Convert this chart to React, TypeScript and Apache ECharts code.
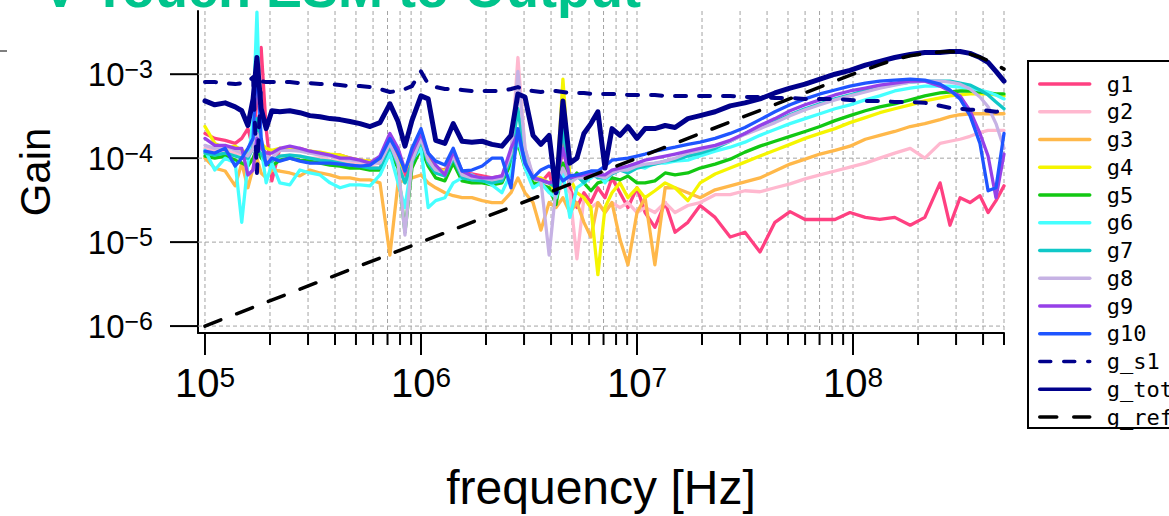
import React, { useEffect, useRef } from 'react';
import * as echarts from 'echarts';

// ---------------- data ----------------
const FREQ = [
  1.00e5, 1.11e5, 1.24e5, 1.38e5, 1.48e5, 1.58e5, 1.67e5, 1.74e5, 1.82e5, 1.92e5,
  2.04e5, 2.22e5, 2.47e5, 2.75e5, 3.06e5, 3.41e5, 3.79e5, 4.22e5, 4.69e5, 5.22e5,
  5.81e5, 6.46e5, 7.18e5, 7.83e5, 8.43e5, 9.08e5, 1.00e6, 1.08e6, 1.17e6, 1.29e6,
  1.41e6, 1.55e6, 1.72e6, 1.92e6, 2.13e6, 2.37e6, 2.61e6, 2.81e6, 3.03e6, 3.30e6,
  3.59e6, 3.92e6, 4.22e6, 4.54e6, 4.89e6, 5.27e6, 5.68e6, 6.12e6, 6.59e6, 7.11e6,
  7.66e6, 8.34e6, 9.08e6, 1.00e7, 1.09e7, 1.21e7, 1.35e7, 1.50e7, 1.72e7, 1.96e7,
  2.30e7, 2.70e7, 3.16e7, 3.71e7, 4.35e7, 5.11e7, 6.00e7, 7.03e7, 8.25e7, 9.68e7,
  1.14e8, 1.33e8, 1.56e8, 1.84e8, 2.15e8, 2.53e8, 2.81e8, 3.13e8, 3.48e8, 3.87e8,
  4.22e8, 4.59e8, 5.00e8,
];

const G1 = [
  1.97e-4, 1.72e-4, 1.63e-4, 1.50e-4, 1.72e-4, 2.25e-4, 1.31e-4, 5.08e-4, 2.08e-3, 2.25e-4,
  5.36e-5, 1.31e-4, 1.24e-4, 1.31e-4, 1.21e-4, 1.15e-4, 1.09e-4, 1.09e-4, 1.00e-4, 9.47e-5,
  9.22e-5, 8.73e-5, 1.50e-4, 1.00e-4, 6.14e-5, 9.47e-5, 1.72e-4, 1.00e-4, 7.62e-5, 7.22e-5,
  1.00e-4, 6.66e-5, 6.48e-5, 6.14e-5, 5.82e-5, 6.14e-5, 8.73e-5, 1.72e-4, 1.00e-4, 5.82e-5,
  5.08e-5, 6.66e-5, 3.38e-5, 1.50e-4, 4.44e-5, 2.58e-5, 3.88e-5, 2.96e-5, 4.44e-5, 3.38e-5,
  5.82e-5, 3.88e-5, 2.58e-5, 4.44e-5, 2.25e-5, 1.50e-5, 2.96e-5, 1.31e-5, 1.72e-5, 2.73e-5,
  1.97e-5, 1.15e-5, 1.31e-5, 7.62e-6, 1.72e-5, 2.31e-5, 1.86e-5, 1.86e-5, 1.86e-5, 2.25e-5,
  1.97e-5, 1.86e-5, 1.97e-5, 1.59e-5, 1.97e-5, 5.08e-5, 1.59e-5, 3.38e-5, 2.96e-5, 3.57e-5,
  2.25e-5, 3.12e-5, 4.68e-5,
];

const G2 = [
  1.31e-4, 1.21e-4, 1.24e-4, 1.15e-4, 1.12e-4, 1.06e-4, 1.31e-4, 2.96e-4, 1.72e-4, 1.00e-4,
  8.73e-5, 1.06e-4, 1.09e-4, 1.06e-4, 1.00e-4, 1.00e-4, 9.47e-5, 9.22e-5, 8.73e-5, 8.50e-5,
  8.05e-5, 7.62e-5, 1.31e-4, 8.73e-5, 5.08e-5, 8.05e-5, 1.31e-4, 8.73e-5, 6.66e-5, 6.14e-5,
  8.73e-5, 5.82e-5, 5.51e-5, 5.36e-5, 5.08e-5, 5.51e-5, 1.00e-4, 1.58e-3, 1.31e-4, 5.82e-5,
  5.08e-5, 4.44e-5, 3.38e-5, 5.08e-5, 3.88e-5, 6.31e-6, 3.38e-5, 2.58e-5, 2.96e-5, 2.25e-5,
  2.96e-5, 2.58e-5, 2.96e-5, 2.25e-5, 2.58e-5, 2.25e-5, 2.96e-5, 2.25e-5, 2.73e-5, 2.96e-5,
  3.67e-5, 3.67e-5, 4.09e-5, 3.98e-5, 4.44e-5, 4.94e-5, 5.66e-5, 6.31e-5, 7.03e-5, 7.83e-5,
  8.73e-5, 1.00e-4, 1.15e-4, 1.31e-4, 1.00e-4, 1.50e-4, 1.59e-4, 1.68e-4, 1.82e-4, 2.02e-4,
  2.14e-4, 2.14e-4, 2.14e-4,
];

const G3 = [
  1.00e-4, 7.62e-5, 7.03e-5, 4.68e-5, 8.73e-5, 4.44e-5, 7.62e-5, 1.00e-4, 6.66e-5, 5.82e-5,
  7.22e-5, 7.03e-5, 6.66e-5, 6.14e-5, 7.22e-5, 6.66e-5, 6.31e-5, 5.82e-5, 5.82e-5, 5.51e-5,
  5.51e-5, 5.08e-5, 6.99e-6, 5.08e-5, 5.51e-5, 5.82e-5, 6.31e-5, 5.08e-5, 4.44e-5, 3.88e-5,
  3.57e-5, 3.38e-5, 3.38e-5, 3.12e-5, 2.96e-5, 2.96e-5, 3.88e-5, 5.82e-5, 3.88e-5, 2.96e-5,
  1.39e-5, 2.96e-5, 2.58e-5, 3.38e-5, 2.25e-5, 2.96e-5, 1.72e-5, 1.15e-5, 2.96e-5, 2.25e-5,
  2.96e-5, 1.08e-5, 5.36e-6, 2.25e-5, 3.38e-5, 5.36e-6, 4.44e-5, 4.44e-5, 3.88e-5, 3.38e-5,
  4.20e-5, 4.68e-5, 5.22e-5, 5.82e-5, 7.03e-5, 8.50e-5, 9.73e-5, 1.12e-4, 1.24e-4, 1.39e-4,
  1.68e-4, 1.87e-4, 2.08e-4, 2.38e-4, 2.58e-4, 2.88e-4, 3.12e-4, 3.29e-4, 3.38e-4, 3.38e-4,
  3.38e-4, 3.38e-4, 3.38e-4,
];

const G4 = [
  2.38e-4, 1.50e-4, 1.31e-4, 1.39e-4, 1.24e-4, 1.15e-4, 1.31e-4, 1.72e-4, 1.50e-4, 1.31e-4,
  1.24e-4, 1.31e-4, 1.31e-4, 1.24e-4, 1.21e-4, 1.18e-4, 1.12e-4, 1.09e-4, 1.00e-4, 9.47e-5,
  9.22e-5, 8.73e-5, 1.31e-4, 9.47e-5, 7.22e-5, 1.00e-4, 1.50e-4, 1.00e-4, 7.62e-5, 7.03e-5,
  1.00e-4, 6.66e-5, 6.14e-5, 5.82e-5, 5.51e-5, 5.82e-5, 1.00e-4, 1.72e-4, 8.73e-5, 5.82e-5,
  5.82e-5, 5.08e-5, 3.88e-5, 8.73e-4, 5.82e-5, 3.88e-5, 3.38e-5, 2.58e-5, 4.09e-6, 2.58e-5,
  3.88e-5, 5.08e-5, 3.38e-5, 4.44e-5, 3.38e-5, 4.09e-5, 5.08e-5, 4.44e-5, 3.12e-5, 5.08e-5,
  6.48e-5, 7.62e-5, 8.97e-5, 1.06e-4, 1.24e-4, 1.46e-4, 1.72e-4, 1.97e-4, 2.25e-4, 2.65e-4,
  3.04e-4, 3.48e-4, 3.88e-4, 4.32e-4, 4.81e-4, 5.22e-4, 5.51e-4, 5.66e-4, 5.82e-4, 5.82e-4,
  5.82e-4, 5.66e-4, 5.51e-4,
];

const G5 = [
  1.06e-4, 1.00e-4, 1.06e-4, 9.47e-5, 8.73e-5, 8.05e-5, 1.00e-4, 1.31e-4, 1.00e-4, 8.73e-5,
  8.05e-5, 9.47e-5, 1.00e-4, 9.47e-5, 9.22e-5, 8.73e-5, 8.27e-5, 8.05e-5, 7.62e-5, 7.62e-5,
  7.22e-5, 7.22e-5, 1.15e-4, 7.62e-5, 1.31e-5, 7.62e-5, 1.31e-4, 8.05e-5, 5.82e-5, 5.36e-5,
  8.73e-5, 5.36e-5, 5.08e-5, 5.08e-5, 4.81e-5, 5.08e-5, 8.73e-5, 1.50e-4, 7.62e-5, 5.08e-5,
  4.81e-5, 4.44e-5, 2.80e-5, 8.73e-5, 5.08e-5, 6.66e-5, 5.08e-5, 4.09e-5, 5.08e-5, 5.36e-5,
  5.82e-5, 5.51e-5, 6.14e-5, 5.08e-5, 5.08e-5, 5.36e-5, 6.66e-5, 6.31e-5, 6.66e-5, 7.62e-5,
  8.50e-5, 9.73e-5, 1.18e-4, 1.39e-4, 1.59e-4, 1.82e-4, 2.08e-4, 2.38e-4, 2.80e-4, 3.21e-4,
  3.67e-4, 4.09e-4, 4.44e-4, 4.94e-4, 5.51e-4, 5.98e-4, 6.14e-4, 6.31e-4, 6.31e-4, 6.14e-4,
  5.98e-4, 5.82e-4, 5.82e-4,
];

const G6 = [
  1.24e-4, 7.22e-5, 1.00e-4, 8.73e-5, 1.72e-5, 8.73e-5, 2.96e-4, 5.50e-3, 1.31e-4, 5.08e-5,
  8.73e-5, 5.08e-5, 4.81e-5, 7.22e-5, 6.66e-5, 6.31e-5, 5.08e-5, 4.44e-5, 4.81e-5, 4.81e-5,
  4.68e-5, 6.31e-5, 1.15e-4, 5.08e-5, 2.58e-5, 9.47e-5, 1.31e-4, 2.58e-5, 3.12e-5, 3.38e-5,
  5.08e-5, 5.82e-5, 6.31e-5, 5.51e-5, 4.81e-5, 3.88e-5, 6.66e-5, 1.72e-4, 7.62e-5, 4.44e-5,
  5.08e-5, 3.88e-5, 3.38e-5, 6.66e-5, 1.97e-5, 4.44e-5, 5.08e-5, 5.82e-5, 6.66e-5, 5.08e-5,
  6.66e-5, 7.62e-5, 7.22e-5, 8.05e-5, 7.62e-5, 8.73e-5, 8.73e-5, 9.22e-5, 9.47e-5, 1.06e-4,
  1.21e-4, 1.35e-4, 1.55e-4, 1.87e-4, 2.19e-4, 2.58e-4, 2.96e-4, 3.38e-4, 3.88e-4, 4.32e-4,
  4.94e-4, 5.51e-4, 6.31e-4, 6.84e-4, 7.22e-4, 7.22e-4, 7.22e-4, 7.03e-4, 6.84e-4, 6.48e-4,
  6.14e-4, 5.66e-4, 5.08e-4,
];

const G7 = [
  1.15e-4, 1.09e-4, 1.15e-4, 1.06e-4, 1.00e-4, 1.00e-4, 1.31e-4, 2.96e-4, 1.15e-4, 8.73e-5,
  9.22e-5, 1.06e-4, 1.09e-4, 1.06e-4, 1.00e-4, 9.47e-5, 9.22e-5, 8.73e-5, 8.27e-5, 8.05e-5,
  7.62e-5, 7.62e-5, 1.39e-4, 8.27e-5, 5.08e-5, 8.73e-5, 1.63e-4, 8.73e-5, 6.66e-5, 6.14e-5,
  1.00e-4, 5.82e-5, 5.51e-5, 5.36e-5, 5.08e-5, 5.36e-5, 1.00e-4, 3.88e-4, 1.00e-4, 5.82e-5,
  5.36e-5, 5.08e-5, 4.44e-5, 2.25e-4, 5.08e-5, 6.14e-5, 5.08e-5, 6.66e-5, 5.82e-5, 5.82e-5,
  6.48e-5, 7.22e-5, 6.66e-5, 7.62e-5, 8.05e-5, 8.50e-5, 9.22e-5, 9.47e-5, 1.06e-4, 1.15e-4,
  1.31e-4, 1.59e-4, 1.97e-4, 2.38e-4, 2.73e-4, 3.29e-4, 3.88e-4, 4.44e-4, 5.08e-4, 5.66e-4,
  6.48e-4, 7.03e-4, 7.62e-4, 8.05e-4, 8.27e-4, 8.27e-4, 8.27e-4, 7.83e-4, 7.42e-4, 6.48e-4,
  5.66e-4, 4.68e-4, 3.88e-4,
];

const G8 = [
  1.42e-4, 1.31e-4, 1.39e-4, 1.24e-4, 1.15e-4, 1.06e-4, 1.31e-4, 1.97e-4, 1.31e-4, 1.06e-4,
  1.00e-4, 1.24e-4, 1.24e-4, 1.21e-4, 1.15e-4, 1.09e-4, 1.06e-4, 1.00e-4, 9.47e-5, 9.22e-5,
  8.73e-5, 8.73e-5, 1.50e-4, 8.73e-5, 1.21e-5, 9.22e-5, 1.72e-4, 9.47e-5, 7.22e-5, 6.66e-5,
  1.06e-4, 6.31e-5, 5.82e-5, 5.82e-5, 5.51e-5, 5.82e-5, 1.15e-4, 1.08e-3, 1.31e-4, 6.14e-5,
  5.36e-5, 6.99e-6, 4.44e-5, 7.62e-5, 5.08e-5, 5.82e-5, 5.82e-5, 6.14e-5, 6.14e-5, 5.82e-5,
  6.66e-5, 7.22e-5, 7.22e-5, 8.05e-5, 8.50e-5, 8.73e-5, 9.22e-5, 1.00e-4, 1.15e-4, 1.24e-4,
  1.39e-4, 1.59e-4, 1.92e-4, 2.25e-4, 2.65e-4, 3.21e-4, 3.77e-4, 4.32e-4, 4.94e-4, 5.51e-4,
  6.14e-4, 6.84e-4, 7.42e-4, 8.05e-4, 8.27e-4, 8.27e-4, 8.05e-4, 7.62e-4, 6.66e-4, 5.36e-4,
  4.09e-4, 2.58e-4, 1.31e-4,
];

const G9 = [
  1.72e-4, 1.42e-4, 1.42e-4, 1.31e-4, 1.31e-4, 6.31e-5, 7.22e-5, 1.72e-4, 1.31e-4, 1.15e-4,
  1.15e-4, 1.31e-4, 1.39e-4, 1.31e-4, 1.21e-4, 1.15e-4, 1.09e-4, 1.00e-4, 1.00e-4, 9.47e-5,
  8.73e-5, 1.06e-4, 1.97e-4, 1.31e-4, 7.22e-5, 1.15e-4, 1.97e-4, 1.15e-4, 8.27e-5, 6.31e-5,
  1.21e-4, 7.03e-5, 6.14e-5, 5.82e-5, 5.82e-5, 6.14e-5, 1.31e-4, 1.97e-4, 8.73e-5, 5.82e-5,
  5.51e-5, 5.08e-5, 5.36e-5, 1.31e-4, 5.82e-5, 6.14e-5, 6.31e-5, 6.48e-5, 6.31e-5, 6.31e-5,
  7.22e-5, 7.62e-5, 8.05e-5, 8.73e-5, 9.47e-5, 1.00e-4, 1.06e-4, 1.12e-4, 1.21e-4, 1.31e-4,
  1.42e-4, 1.63e-4, 1.97e-4, 2.45e-4, 2.96e-4, 3.67e-4, 4.32e-4, 4.94e-4, 5.66e-4, 6.31e-4,
  6.84e-4, 7.42e-4, 7.83e-4, 8.27e-4, 8.27e-4, 7.22e-4, 6.31e-4, 5.51e-4, 3.67e-4, 1.97e-4,
  1.06e-4, 3.38e-5, 1.12e-4,
];

const G10 = [
  1.21e-4, 1.15e-4, 1.31e-4, 8.05e-5, 1.00e-4, 1.31e-4, 1.72e-4, 1.50e-3, 1.72e-4, 8.27e-5,
  1.00e-4, 9.22e-5, 1.00e-4, 9.22e-5, 8.73e-5, 8.73e-5, 8.73e-5, 8.50e-5, 8.27e-5, 8.05e-5,
  8.27e-5, 1.00e-4, 1.72e-4, 1.15e-4, 7.03e-5, 1.31e-4, 2.25e-4, 1.15e-4, 9.22e-5, 8.27e-5,
  1.31e-4, 7.03e-5, 7.22e-5, 8.05e-5, 1.00e-4, 1.00e-4, 4.44e-5, 2.25e-4, 8.73e-5, 5.82e-5,
  7.22e-5, 8.05e-5, 7.22e-5, 5.36e-5, 6.14e-5, 6.31e-5, 6.66e-5, 7.03e-5, 7.03e-5, 8.05e-5,
  9.47e-5, 9.73e-5, 1.00e-4, 1.06e-4, 1.12e-4, 1.21e-4, 1.28e-4, 1.35e-4, 1.46e-4, 1.55e-4,
  1.72e-4, 1.97e-4, 2.32e-4, 2.88e-4, 3.57e-4, 4.32e-4, 5.08e-4, 5.82e-4, 6.48e-4, 7.22e-4,
  7.83e-4, 8.27e-4, 8.50e-4, 8.73e-4, 8.50e-4, 7.62e-4, 6.48e-4, 5.08e-4, 3.21e-4, 1.50e-4,
  4.09e-5, 4.44e-5, 1.97e-4,
];

const G_S1 = [
  8.05e-4, 8.05e-4, 7.83e-4, 7.62e-4, 7.83e-4, 8.05e-4, 9.22e-4, 6.66e-5, 8.27e-4, 8.05e-4,
  8.05e-4, 8.05e-4, 8.05e-4, 7.83e-4, 7.83e-4, 7.62e-4, 7.62e-4, 7.42e-4, 7.22e-4, 7.22e-4,
  7.03e-4, 6.66e-4, 6.14e-4, 6.31e-4, 6.66e-4, 7.22e-4, 1.08e-3, 7.62e-4, 7.03e-4, 6.66e-4,
  6.66e-4, 6.48e-4, 6.31e-4, 6.31e-4, 6.31e-4, 6.31e-4, 6.66e-4, 7.03e-4, 6.48e-4, 6.31e-4,
  6.14e-4, 6.31e-4, 6.31e-4, 6.14e-4, 5.98e-4, 5.98e-4, 5.98e-4, 5.82e-4, 5.82e-4, 5.82e-4,
  5.82e-4, 5.82e-4, 5.66e-4, 5.66e-4, 5.66e-4, 5.66e-4, 5.51e-4, 5.51e-4, 5.51e-4, 5.51e-4,
  5.51e-4, 5.51e-4, 5.36e-4, 5.36e-4, 5.22e-4, 5.22e-4, 5.08e-4, 5.08e-4, 5.08e-4, 4.94e-4,
  4.81e-4, 4.81e-4, 4.68e-4, 4.68e-4, 4.56e-4, 4.20e-4, 3.98e-4, 3.88e-4, 3.77e-4, 3.77e-4,
  3.67e-4, 3.57e-4, 3.67e-4,
];

const G_TOT = [
  4.81e-4, 4.32e-4, 4.56e-4, 4.09e-4, 3.67e-4, 2.45e-4, 5.08e-4, 1.58e-3, 3.88e-4, 2.25e-4,
  3.67e-4, 3.57e-4, 3.67e-4, 3.48e-4, 3.21e-4, 3.12e-4, 2.96e-4, 2.88e-4, 2.73e-4, 2.58e-4,
  2.38e-4, 2.65e-4, 4.44e-4, 2.73e-4, 1.39e-4, 2.80e-4, 5.51e-4, 5.08e-4, 1.63e-4, 1.50e-4,
  2.58e-4, 1.59e-4, 1.55e-4, 1.59e-4, 1.46e-4, 1.39e-4, 1.87e-4, 5.82e-4, 5.36e-4, 1.87e-4,
  1.46e-4, 1.87e-4, 3.88e-5, 4.81e-4, 8.73e-5, 1.00e-4, 1.97e-4, 2.58e-4, 3.57e-4, 7.62e-5,
  2.25e-4, 1.87e-4, 2.38e-4, 1.72e-4, 2.25e-4, 2.25e-4, 2.45e-4, 2.32e-4, 2.96e-4, 3.21e-4,
  3.57e-4, 4.20e-4, 4.56e-4, 5.08e-4, 5.98e-4, 6.84e-4, 7.62e-4, 8.73e-4, 1.00e-3, 1.11e-3,
  1.28e-3, 1.42e-3, 1.58e-3, 1.72e-3, 1.81e-3, 1.81e-3, 1.86e-3, 1.86e-3, 1.77e-3, 1.58e-3,
  1.38e-3, 1.08e-3, 8.27e-4,
];

const REF_FREQ = [1e5, 1e6, 1e7, 1e8, 1.33e8, 1.56e8, 1.84e8, 2.15e8, 2.53e8, 2.81e8, 3.13e8, 3.48e8, 3.87e8, 4.22e8, 4.59e8, 5.0e8];
const G_REF = [1e-6, 1e-5, 1e-4, 1e-3, 1.3e-3, 1.5e-3, 1.66e-3, 1.76e-3, 1.84e-3, 1.86e-3, 1.83e-3, 1.74e-3, 1.6e-3, 1.45e-3, 1.3e-3, 1.15e-3];

const X_GRID_TICKS = [
  1e5, 2e5, 3e5, 4e5, 5e5, 6e5, 7e5, 8e5, 9e5,
  1e6, 2e6, 3e6, 4e6, 5e6, 6e6, 7e6, 8e6, 9e6,
  1e7, 2e7, 3e7, 4e7, 5e7, 6e7, 7e7, 8e7, 9e7,
  1e8, 2e8, 3e8, 4e8, 5e8,
];
const Y_TICKS = [1e-6, 1e-5, 1e-4, 1e-3];

const SERIES_NAMES = ['g1', 'g2', 'g3', 'g4', 'g5', 'g6', 'g7', 'g8', 'g9', 'g10', 'g_s1', 'g_tot', 'g_ref'];
const SERIES_VALUES = [G1, G2, G3, G4, G5, G6, G7, G8, G9, G10, G_S1, G_TOT];

// ---------------- styles ----------------
const COLORS: Record<string, string> = {
  g1: '#FF4081', g2: '#FFB8CF', g3: '#FFB84A', g4: '#F5F500', g5: '#12C812',
  g6: '#45FFFF', g7: '#10C8C8', g8: '#C6B2E4', g9: '#9640E8', g10: '#1F55FF',
  g_s1: '#00008B', g_tot: '#00008B', g_ref: '#000000',
};

const X_MIN = 92840;
const X_MAX = 5e8;
const Y_MIN = 8.27e-7;
const Y_MAX = 5.66e-3;

const TICK_FONT = "'Liberation Sans', Arial, sans-serif";
const LABEL_FONT = "'Liberation Sans', Arial, sans-serif";

function isPow10(v: number) {
  const e = Math.log10(v);
  return Math.abs(e - Math.round(e)) < 1e-6;
}

export default function App() {
  const ref = useRef<HTMLDivElement>(null);

  useEffect(() => {
    if (!ref.current) return;
    const chart = echarts.init(ref.current, null, { renderer: 'svg' });

    const lineSeries: any[] = SERIES_NAMES.map((name, i) => {
      const isRef = name === 'g_ref';
      const data = isRef
        ? REF_FREQ.map((f, k) => [f, G_REF[k]])
        : FREQ.map((f, k) => [f, SERIES_VALUES[i][k]]);
      let width = 3.3;
      let type: any = 'solid';
      if (name === 'g_tot') width = 5;
      if (name === 'g_s1') { width = 4; type = [11, 13]; }
      if (isRef) { width = 3.5; type = [17, 17]; }
      return {
        name,
        type: 'line',
        data,
        symbol: 'none',
        showSymbol: false,
        z: 3,
        lineStyle: { color: COLORS[name], width, type, cap: 'round', join: 'round' },
        itemStyle: { color: COLORS[name] },
        silent: true,
      };
    });

    const xGrid = {
      type: 'custom',
      name: 'xgrid',
      silent: true,
      z: 1,
      clip: false,
      data: X_GRID_TICKS.map((v) => [v, 1e-4]),
      encode: { x: 0, y: 1 },
      renderItem: (_p: any, api: any) => {
        const v = api.value(0);
        const top = api.coord([v, Y_MAX]);
        const bot = api.coord([v, Y_MIN]);
        const major = isPow10(v);
        return {
          type: 'group',
          children: [
            {
              type: 'line',
              shape: { x1: top[0], y1: top[1], x2: top[0], y2: bot[1] },
              style: { stroke: '#a3a3a3', lineWidth: 1, lineDash: [4, 3] },
            },
            {
              type: 'line',
              shape: { x1: top[0], y1: bot[1], x2: top[0], y2: bot[1] + (major ? 22 : 12) },
              style: { stroke: '#000', lineWidth: 2 },
            },
          ],
        };
      },
    };

    const yGrid = {
      type: 'custom',
      name: 'ygrid',
      silent: true,
      z: 1,
      clip: false,
      data: Y_TICKS.map((v) => [1e6, v]),
      encode: { x: 0, y: 1 },
      renderItem: (_p: any, api: any) => {
        const v = api.value(1);
        const l = api.coord([X_MIN, v]);
        const r = api.coord([X_MAX, v]);
        return {
          type: 'group',
          children: [
            {
              type: 'line',
              shape: { x1: l[0], y1: l[1], x2: r[0], y2: r[1] },
              style: { stroke: '#a3a3a3', lineWidth: 1, lineDash: [4, 3] },
            },
            {
              type: 'line',
              shape: { x1: l[0] - 28, y1: l[1], x2: l[0], y2: l[1] },
              style: { stroke: '#000', lineWidth: 2 },
            },
          ],
        };
      },
    };

    const option: any = {
      animation: false,
      backgroundColor: '#ffffff',
      grid: { left: 198, right: 165, top: 11, bottom: 179 },
      xAxis: {
        type: 'log',
        logBase: 10,
        min: X_MIN,
        max: X_MAX,
        name: 'frequency [Hz]',
        nameLocation: 'middle',
        nameGap: 130,
        nameTextStyle: { fontSize: 48, fontFamily: LABEL_FONT, color: '#000' },
        axisLine: { show: true, onZero: false, lineStyle: { color: '#000', width: 2 } },
        axisTick: { show: false },
        splitLine: { show: false },
        axisLabel: {
          margin: 30,
          formatter: (v: number) => (isPow10(v) ? `{b|10}{s|${Math.round(Math.log10(v))}}` : ''),
          rich: {
            b: { fontSize: 40, lineHeight: 40, fontFamily: TICK_FONT, color: '#000' },
            s: { fontSize: 28, lineHeight: 22, verticalAlign: 'top', fontFamily: TICK_FONT, color: '#000' },
          },
        },
      },
      yAxis: {
        type: 'log',
        logBase: 10,
        min: Y_MIN,
        max: Y_MAX,
        name: 'Gain',
        nameLocation: 'middle',
        nameGap: 142,
        nameTextStyle: { fontSize: 42, fontFamily: LABEL_FONT, color: '#000' },
        axisLine: { show: true, onZero: false, lineStyle: { color: '#000', width: 2 } },
        axisTick: { show: false },
        splitLine: { show: false },
        axisLabel: {
          margin: 45,
          formatter: (v: number) =>
            isPow10(v) ? `{b|10}{s|\u2212${Math.abs(Math.round(Math.log10(v)))}}` : '',
          rich: {
            b: { fontSize: 33, lineHeight: 36, fontFamily: TICK_FONT, color: '#000' },
            s: { fontSize: 25, lineHeight: 20, verticalAlign: 'top', fontFamily: TICK_FONT, color: '#000' },
          },
        },
      },
      legend: {
        data: SERIES_NAMES,
        orient: 'vertical',
        left: 1028,
        top: 61,
        itemWidth: 50,
        itemHeight: 14,
        itemGap: 5.75,
        padding: [12, 10, 0, 10],
        borderColor: '#000',
        borderWidth: 2,
        borderRadius: 0,
        backgroundColor: '#fff',
        selectedMode: false,
        lineStyle: { width: 3.5 },
        itemStyle: { opacity: 0, borderWidth: 0 },
        textStyle: {
          fontFamily: "'DejaVu Sans Mono', monospace",
          fontSize: 22,
          lineHeight: 20,
          color: '#000',
          padding: [0, 0, 0, 12],
        },
      },
      graphic: [
        {
          type: 'text',
          x: 42,
          y: 15,
          silent: true,
          style: {
            text: 'V-Touch ESM to Output',
            font: "bold 54px 'Liberation Sans', Arial, sans-serif",
            fill: '#00C48C',
            verticalAlign: 'bottom',
            align: 'left',
          },
        },
        {
          type: 'line',
          silent: true,
          shape: { x1: 0, y1: 51, x2: 7, y2: 51 },
          style: { stroke: '#555', lineWidth: 1.5 },
        },
      ],
      series: [xGrid, yGrid, ...lineSeries],
    };

    chart.setOption(option);
    return () => chart.dispose();
  }, []);

  return (
    <div
      ref={ref}
      style={{ position: 'fixed', left: 0, top: 0, width: 1169, height: 516, background: '#fff' }}
    />
  );
}
